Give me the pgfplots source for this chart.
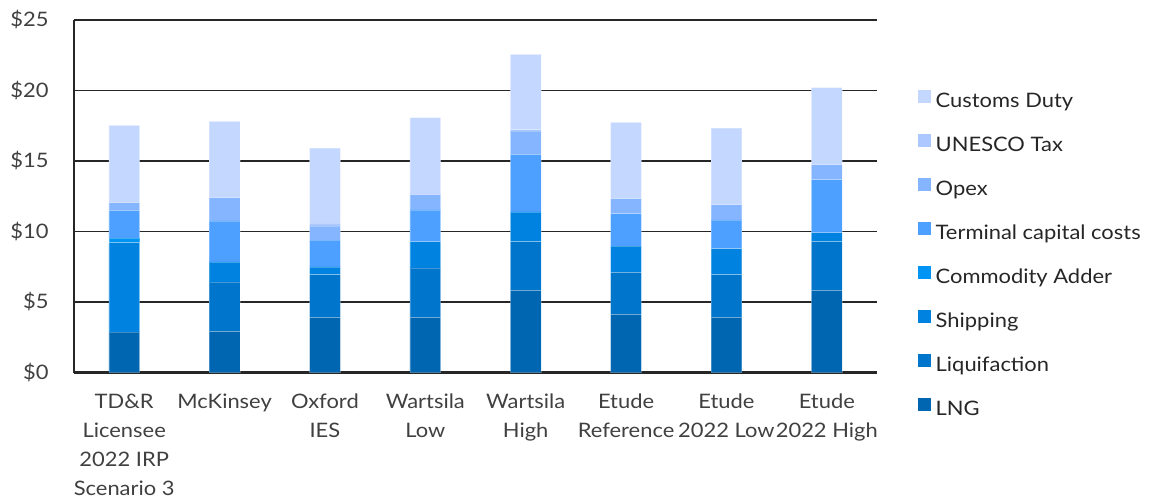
\documentclass[border=0pt]{standalone}
\usepackage{pgfplots}
\pgfplotsset{compat=1.18}
\usepackage{pgfplotstable}
\usepackage{fontspec}
\setmainfont{Lato}[FakeStretch=1.1]
\definecolor{cCus}{HTML}{C4D7FF}
\definecolor{cUne}{HTML}{ADC8FF}
\definecolor{cOpx}{HTML}{85B5FF}
\definecolor{cTer}{HTML}{4DA0FF}
\definecolor{cCom}{HTML}{0094F5}
\definecolor{cShp}{HTML}{0083E0}
\definecolor{cLiq}{HTML}{0075CC}
\definecolor{cLNG}{HTML}{0066B2}
\definecolor{txt}{HTML}{404040}
\definecolor{grd}{HTML}{262626}
\pgfplotstableread{
x LNG Liq Ship Comm Term Opex Unesco Customs
0 2.87 0.00 6.36 0.32 1.94 0.56 0.00 5.48
1 2.92 3.51 1.42 0.00 2.90 1.66 0.00 5.40
2 3.91 3.04 0.54 0.00 1.89 1.02 0.20 5.32
3 3.91 3.51 1.87 0.00 2.24 1.09 0.11 5.34
4 5.82 3.47 2.10 0.00 4.08 1.66 0.10 5.33
5 4.12 2.98 1.86 0.00 2.31 1.07 0.00 5.40
6 3.91 3.04 1.83 0.00 2.04 1.09 0.00 5.43
7 5.82 3.47 0.62 0.00 3.77 1.07 0.00 5.45
}\data
\begin{document}
\begin{tikzpicture}
\useasboundingbox (0,0) rectangle (1158bp,502bp);
\begin{axis}[
  at={(74bp,129.5bp)}, anchor=south west,
  scale only axis, width=803bp, height=352.5bp,
  ybar stacked, bar width=30.7bp,
  xmin=-0.5, xmax=7.5, ymin=0, ymax=25,
  xtick=data,
  xticklabels={TD\&R\\Licensee\\2022 IRP\\Scenario 3, McKinsey, Oxford\\IES, Wartsila\\Low, Wartsila\\High, Etude\\Reference, Etude\\2022 Low, Etude\\2022 High},
  xticklabel style={font=\fontsize{20}{29}\selectfont, align=center, text=txt, anchor=north, yshift=-18bp},
  ytick={0,5,10,15,20,25},
  yticklabels={\$0,\$5,\$10,\$15,\$20,\$25},
  yticklabel style={font=\fontsize{20}{24}\selectfont, text=txt, xshift=-22bp},
  major tick length=0pt,
  ymajorgrids, grid style={grd, line width=1.4bp},
  axis x line*=bottom, axis y line*=left,
  x axis line style={grd, line width=2bp, -},
  y axis line style={grd, line width=1.3bp, -},
  every axis plot/.append style={draw=white, draw opacity=0.25, line width=0.6bp},
  legend image code/.code={\fill[#1, draw=none] (0bp,0bp) rectangle (12.5bp,12.5bp);},
  reverse legend,
  legend cell align=left,
  legend style={at={(1,1)}, anchor=north west, xshift=41bp, yshift=-70bp,
    draw=none, fill=none, inner sep=0pt, row sep=21.5bp,
    font=\fontsize{20}{24}\selectfont, text=black!85,
    nodes={inner sep=0pt, text height=15bp, text depth=5bp},
    /tikz/every odd column/.append style={column sep=5bp}},
]
\addplot[fill=cLNG] table[x=x,y=LNG]{\data};
\addplot[fill=cLiq] table[x=x,y=Liq]{\data};
\addplot[fill=cShp] table[x=x,y=Ship]{\data};
\addplot[fill=cCom] table[x=x,y=Comm]{\data};
\addplot[fill=cTer] table[x=x,y=Term]{\data};
\addplot[fill=cOpx] table[x=x,y=Opex]{\data};
\addplot[fill=cUne] table[x=x,y=Unesco]{\data};
\addplot[fill=cCus] table[x=x,y=Customs]{\data};
\legend{LNG,Liquifaction,Shipping,Commodity Adder,Terminal capital costs,Opex,UNESCO Tax,Customs Duty}
\end{axis}
\end{tikzpicture}
\end{document}
